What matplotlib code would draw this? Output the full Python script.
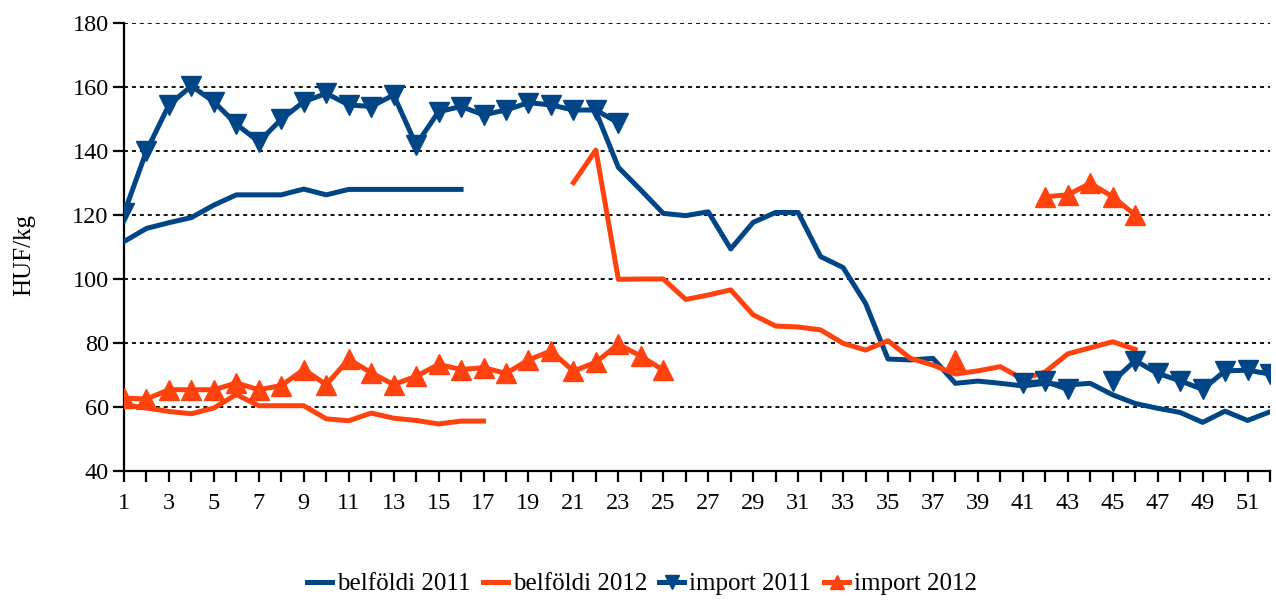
"""Weekly HUF/kg prices: belföldi vs import, 2011 and 2012."""

import matplotlib

matplotlib.use("Agg")
import matplotlib.pyplot as plt
import numpy as np

nan = np.nan

weeks = list(range(1, 53))

belfoldi_2011 = (
    [111.7, 115.8, 117.6, 119.2, 123.1, 126.3, 126.3, 126.3, 128.1, 126.3,
     128.0, 128.0, 128.0, 128.0, 128.0, 128.0]
    + [nan] * 5
    + [152.3, 134.9, 127.8, 120.5, 119.8, 121.0, 109.4, 117.7, 120.8, 120.8,
       107.0, 103.6, 92.4, 75.0, 74.7, 75.2, 67.4, 68.1, 67.4, 66.6,
       67.4, 66.9, 67.4, 63.8, 61.1, 59.6, 58.3, 55.2, 58.7, 55.8, 58.5]
)

belfoldi_2012 = (
    [60.7, 59.7, 58.6, 57.9, 59.7, 63.9, 60.4, 60.4, 60.4, 56.3,
     55.7, 58.1, 56.5, 55.8, 54.7, 55.6, 55.6]
    + [nan] * 3
    + [130.1, 140.3, 99.9, 100.0, 100.0, 93.6, 95.0, 96.6, 88.8, 85.3,
       85.0, 84.1, 79.9, 77.8, 80.7, 75.2, 73.1, 70.3, 71.3, 72.6,
       68.7, 71.0, 76.6, 78.5, 80.4, 78.0]
    + [nan] * 6
)

import_2011 = (
    [120.5, 140.0, 154.4, 160.3, 155.4, 148.4, 142.9, 149.9, 155.4, 158.0,
     154.4, 153.9, 157.5, 141.9, 152.3, 153.9, 151.3, 152.8, 155.1, 154.4,
     152.8, 152.8, 148.8]
    + [nan] * 17
    + [67.5, 68.0, 65.5, nan, 68.0, 74.5, 70.5, 68.2, 65.5, 71.3, 71.5, 70.3]
)

import_2012 = (
    [62.8, 62.5, 65.4, 65.4, 65.4, 67.5, 65.4, 66.7, 71.7, 67.0,
     74.9, 70.7, 67.0, 69.6, 73.3, 71.7, 72.3, 70.5, 74.7, 77.5,
     71.2, 74.0, 79.6, 75.9, 71.5]
    + [nan] * 12
    + [74.7, nan, nan, nan]
    + [125.7, 126.3, 129.9, 125.7, 120.0]
    + [nan] * 6
)

BLUE = "#004586"
ORANGE = "#ff420e"

plt.rcParams["font.family"] = ["Liberation Serif", "DejaVu Serif"]

fig = plt.figure(figsize=(12.76, 6.01), dpi=100)
ax = fig.add_axes([124 / 1276, 1 - 471 / 601, (1270 - 124) / 1276, (471 - 23) / 601])

lw = 3.6
ax.plot(weeks, belfoldi_2011, color=BLUE, lw=lw, label="belföldi 2011", zorder=3)
ax.plot(weeks, belfoldi_2012, color=ORANGE, lw=lw, label="belföldi 2012", zorder=3)
ax.plot(weeks, import_2011, color=BLUE, lw=lw, marker="v", ms=14,
        label="import 2011", zorder=4)
ax.plot(weeks, import_2012, color=ORANGE, lw=lw, marker="^", ms=14,
        label="import 2012", zorder=4)

ax.set_xlim(1, 52)
ax.set_ylim(40, 180)
ax.set_xticks(weeks)
ax.set_xticklabels([str(w) if w % 2 == 1 else "" for w in weeks])
ax.set_yticks(range(40, 181, 20))
ax.yaxis.grid(True, color="black", linestyle=(0, (2.2, 2.2)), lw=1.3)
ax.set_axisbelow(True)
for side in ("top", "right"):
    ax.spines[side].set_visible(False)
for side in ("left", "bottom"):
    ax.spines[side].set_linewidth(1.6)
ax.tick_params(axis="both", direction="out", length=8, width=1.6, labelsize=17.5)
ax.tick_params(axis="x", pad=8)
ax.tick_params(axis="y", pad=3)

fig.text(0.019, 0.575, "HUF/kg", rotation=90, ha="center", va="center", fontsize=18)

fig.legend(loc="center", bbox_to_anchor=(0.503, 0.028), ncol=4, frameon=False,
           fontsize=18, handlelength=1.0, handletextpad=0.2, columnspacing=0.5,
           markerscale=0.75)

fig.savefig("out.png", dpi=100)
